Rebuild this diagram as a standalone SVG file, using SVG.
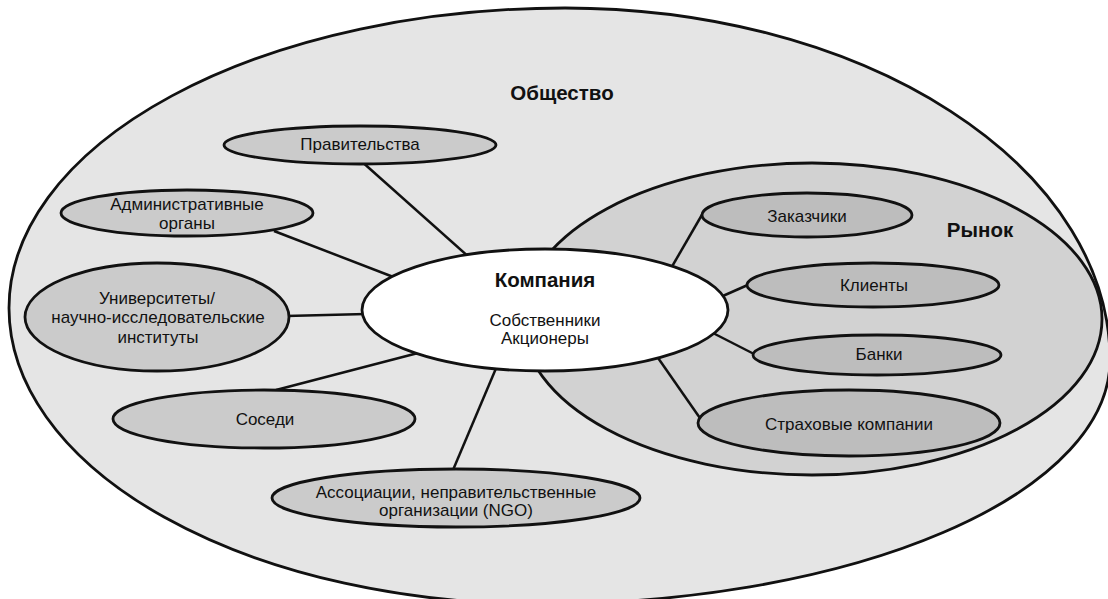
<svg xmlns="http://www.w3.org/2000/svg" width="1108" height="599" viewBox="0 0 1108 599">
  <style>
    .area { stroke: #111; stroke-width: 2.8; }
    .society { fill: #e5e5e5; }
    .market { fill: #d2d2d2; }
    .node { fill: #cbcbcb; stroke: #111; stroke-width: 2.8; }
    .mnode { fill: #bdbdbd; stroke: #111; stroke-width: 2.8; }
    .core { fill: #ffffff; stroke: #111; stroke-width: 2.8; }
    .conn line { stroke: #111; stroke-width: 2.5; }
    text { font-family: "Liberation Sans", Arial, sans-serif; fill: #111; text-anchor: middle; }
    .lbl { font-size: 17px; }
    .ttl { font-size: 20.5px; font-weight: bold; }
  </style>
  <rect x="0" y="0" width="1108" height="599" fill="#ffffff"/>

  <g id="society">
    <path class="area society" d="M 565 8 A 545 352 0 0 1 1110 360 A 570 244 0 0 1 540 604 A 531 296 0 0 1 9 308 A 556 300 0 0 1 565 8 Z"/>
    <text class="ttl" x="562" y="100">Общество</text>
  </g>

  <g id="market">
    <ellipse class="area market" cx="812" cy="319" rx="290" ry="156"/>
    <text class="ttl" x="980" y="237">Рынок</text>
  </g>

  <g id="connectors" class="conn">
    <line x1="360" y1="160" x2="470" y2="258"/>
    <line x1="274" y1="231" x2="396" y2="278"/>
    <line x1="286" y1="316" x2="366" y2="314"/>
    <line x1="276" y1="390" x2="418" y2="353"/>
    <line x1="453" y1="470" x2="497" y2="366"/>
    <line x1="703" y1="213" x2="670" y2="270"/>
    <line x1="750" y1="284" x2="716" y2="299"/>
    <line x1="756" y1="355" x2="709" y2="331"/>
    <line x1="702" y1="421" x2="656" y2="355"/>
  </g>

  <g id="company">
    <ellipse class="core" cx="545" cy="310" rx="183" ry="61"/>
    <text class="ttl" x="545" y="287">Компания</text>
    <text class="lbl" x="545" y="326">Собственники</text>
    <text class="lbl" x="545" y="344">Акционеры</text>
  </g>

  <g id="governments">
    <ellipse class="node" cx="360" cy="145" rx="136" ry="19"/>
    <text class="lbl" x="360" y="150">Правительства</text>
  </g>

  <g id="admin">
    <ellipse class="node" cx="187" cy="213" rx="126" ry="23"/>
    <text class="lbl" x="187" y="210">Административные</text>
    <text class="lbl" x="187" y="229">органы</text>
  </g>

  <g id="universities">
    <ellipse class="node" cx="157" cy="317" rx="132" ry="54"/>
    <text class="lbl" x="157" y="304">Университеты/</text>
    <text class="lbl" x="158" y="323">научно-исследовательские</text>
    <text class="lbl" x="158" y="343">институты</text>
  </g>

  <g id="neighbours">
    <ellipse class="node" cx="264" cy="419" rx="151" ry="29"/>
    <text class="lbl" x="265" y="425">Соседи</text>
  </g>

  <g id="ngo">
    <ellipse class="node" cx="456" cy="498" rx="184" ry="29"/>
    <text class="lbl" x="456" y="498">Ассоциации, неправительственные</text>
    <text class="lbl" x="456" y="516">организации (NGO)</text>
  </g>

  <g id="customers">
    <ellipse class="mnode" cx="807" cy="215" rx="105" ry="22"/>
    <text class="lbl" x="807" y="222">Заказчики</text>
  </g>

  <g id="clients">
    <ellipse class="mnode" cx="873" cy="285" rx="126" ry="22"/>
    <text class="lbl" x="874" y="291">Клиенты</text>
  </g>

  <g id="banks">
    <ellipse class="mnode" cx="877" cy="355" rx="124" ry="20"/>
    <text class="lbl" x="879" y="360">Банки</text>
  </g>

  <g id="insurance">
    <ellipse class="mnode" cx="849" cy="423" rx="151" ry="33"/>
    <text class="lbl" x="849" y="430">Страховые компании</text>
  </g>
</svg>
